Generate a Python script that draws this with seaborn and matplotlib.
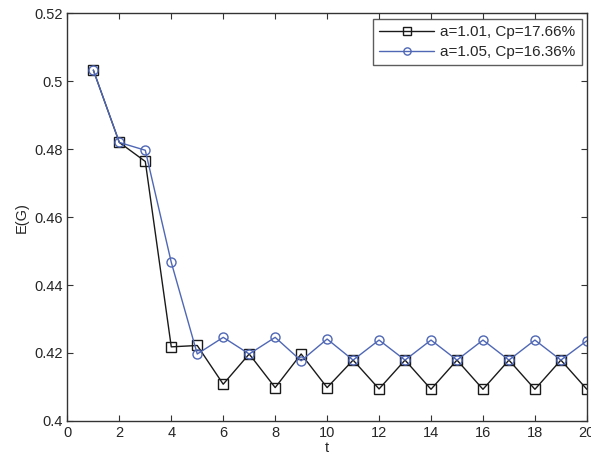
import numpy as np
import pandas as pd
import matplotlib
matplotlib.use("Agg")
import matplotlib.pyplot as plt
import seaborn as sns

# values
t = list(range(1, 21))
eg_a101 = [0.5033, 0.4820, 0.4764, 0.4218, 0.4222, 0.4108, 0.4197, 0.4098, 0.4197, 0.4098,
           0.4179, 0.4094, 0.4179, 0.4093, 0.4179, 0.4093, 0.4179, 0.4093, 0.4179, 0.4093]
eg_a105 = [0.5033, 0.4820, 0.4797, 0.4467, 0.4197, 0.4246, 0.4197, 0.4246, 0.4177, 0.4241,
           0.4179, 0.4238, 0.4179, 0.4238, 0.4179, 0.4238, 0.4179, 0.4238, 0.4179, 0.4236]
labels = ["a=1.01, Cp=17.66%", "a=1.05, Cp=16.36%"]

df = pd.DataFrame({
    "t": t * 2,
    "E(G)": eg_a101 + eg_a105,
    "series": [labels[0]] * len(t) + [labels[1]] * len(t),
})

sns.set_style("ticks")
plt.rcParams["font.family"] = ["Liberation Sans", "DejaVu Sans"]
plt.rcParams["xtick.direction"] = "in"
plt.rcParams["ytick.direction"] = "in"

fig = plt.figure(figsize=(5.91, 4.63), dpi=100)
ax = fig.add_axes([0.114, 0.091, 0.879, 0.880])

palette = {labels[0]: "#1a1a1a", labels[1]: "#4f67b5"}
sns.lineplot(data=df, x="t", y="E(G)", hue="series", style="series",
             markers={labels[0]: "s", labels[1]: "o"}, dashes=False,
             palette=palette, ax=ax, linewidth=1.0, markersize=6.5,
             markerfacecolor="none", markeredgewidth=1.0)
# seaborn sets facecolor per artist, force hollow markers with matching edges
for line in ax.lines:
    line.set_markeredgecolor(line.get_color())
    line.set_markerfacecolor("none")

ax.set_xlim(0, 20)
ax.set_ylim(0.4, 0.52)
ax.set_xticks(range(0, 21, 2))
ax.set_yticks(np.arange(0.40, 0.521, 0.02))
ax.set_yticklabels(["0.4", "0.42", "0.44", "0.46", "0.48", "0.5", "0.52"])
ax.tick_params(labelsize=10.5, length=4, top=True, right=True, color="#333333")
for s in ax.spines.values():
    s.set_color("#333333")
    s.set_linewidth(1.0)
ax.set_xlabel("t", fontsize=10.5, labelpad=1)
ax.set_ylabel("E(G)", fontsize=10.5, labelpad=4)

leg = ax.legend(loc="upper right", fontsize=11, frameon=True, fancybox=False,
                edgecolor="#333333", borderaxespad=0.35, handlelength=3.6,
                handletextpad=0.4, markerscale=0.8, labelspacing=0.4,
                borderpad=0.4)
leg.get_frame().set_linewidth(1.0)
for h in leg.get_lines():
    h.set_markerfacecolor("none")
    h.set_markeredgecolor(h.get_color())

fig.savefig("out.png", dpi=100)
